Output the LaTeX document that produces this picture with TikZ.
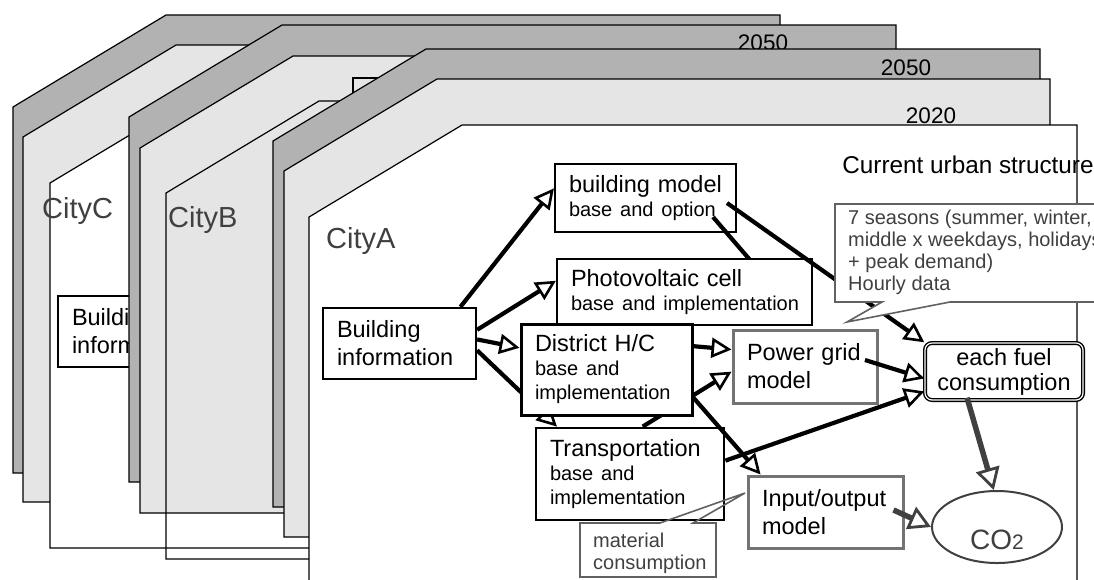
\documentclass[tikz,border=0pt]{standalone}
\usepackage{fontspec}
\setmainfont{Liberation Sans}
\usetikzlibrary{arrows.meta,calc,positioning,shapes.geometric}

\definecolor{darkpage}{gray}{0.70}
\definecolor{lightpage}{gray}{0.90}
\definecolor{boxgray}{gray}{0.45}
\definecolor{notegray}{gray}{0.38}
\definecolor{textgray}{gray}{0.25}

\newcommand\bxfont{\fontsize{23.5}{28}\selectfont}
\newcommand\mxfont{\fontsize{23.5}{24}\selectfont}
\newcommand\sbfont{\fontsize{20}{24}\selectfont}
\newcommand\ctfont{\fontsize{29}{34}\selectfont}
\newcommand\yrfont{\fontsize{22.5}{27}\selectfont}
\newcommand\ntfont{\fontsize{20}{21.8}\selectfont}

\begin{document}
\begin{tikzpicture}[x=1pt, y=-1pt,
page/.style={draw=black, line width=1.2pt},
box/.style={draw=black, fill=white, line width=2.2pt, align=left, inner xsep=14pt, font=\bxfont},
mixbox/.style={box, font=\mxfont},
graybox/.style={box, draw=boxgray, line width=3pt},
arr/.style={line width=4.2pt, -{Triangle[length=20pt, width=20pt, fill=white, line width=2.6pt]}},
grayarr/.style={draw=textgray, line width=5.5pt, -{Triangle[length=22pt, width=24pt, fill=white, line width=2.8pt]}},
note/.style={draw=notegray, line width=1.6pt},
notetext/.style={inner sep=0pt, align=left, font=\ntfont, text=textgray},
city/.style={anchor=base west, inner sep=0pt, font=\ctfont, text=textgray},
year/.style={anchor=base, inner sep=0pt, font=\yrfont}]

\useasboundingbox (0,0) rectangle (1094,579);
\clip (0,0) rectangle (1094,579);

%CityC
\draw[page, fill=darkpage] (13,473) -- (13,107) -- (166,15) -- (780,15) -- (780,473) -- cycle;
\draw[page, fill=lightpage] (23,502) -- (23,137) -- (176,45) -- (790,45) -- (790,502) -- cycle;
\draw[page, fill=white] (50,548) -- (50,183) -- (203,91) -- (815,91) -- (815,548) -- cycle;
\node[city] (cityc) at (42,218) {CityC};
\node[box, text width=125pt, minimum height=71pt] (bic) at (134.5,331.5) {Building\\information};

%CityB
\draw[page, fill=darkpage] (129,482) -- (129,117) -- (282,25) -- (896,25) -- (896,482) -- cycle;
\node[year] (yearb) at (763,50) {2050};
\draw[page, fill=lightpage] (140,513) -- (140,148) -- (293,56) -- (906,56) -- (906,513) -- cycle;
\draw[page] (353,78) rectangle (420,130);
\draw[page] (166,559) -- (166,193) -- (319,101) -- (930,101) -- (930,559) -- cycle;
\node[city] (cityb) at (168,227) {CityB};

%CityA
\draw[page, fill=darkpage] (273,507) -- (273,141) -- (426,49) -- (1040,49) -- (1040,507) -- cycle;
\node[year] (yeara) at (906,75) {2050};
\draw[page, fill=lightpage] (284,537) -- (284,171) -- (437,79) -- (1050,79) -- (1050,537) -- cycle;
\node[year] (yearnow) at (931,123) {2020};
\draw[page, fill=white] (309,640) -- (309,217) -- (462,125) -- (1077,125) -- (1077,640) -- cycle;
\node[year, font=\fontsize{24.3}{28}\selectfont] (current) at (968,173) {Current urban structure};
\node[city] (citya) at (326,248) {CityA};

% models
\node[mixbox, text width=153pt, minimum height=68pt] (bm) at (645.5,198) {building model\\\sbfont base and option};
\node[box, text width=125pt, minimum height=71pt] (bi) at (399.5,343.5) {Building\\information};
\node[mixbox, line width=2.8pt, text width=160pt, minimum height=92pt] (tr) at (630,474) {Transportation\\\sbfont base and\\implementation};
\node[graybox, text width=116pt, minimum height=73pt] (pg) at (805,366.5) {Power grid\\model};
\node[graybox, text width=127pt, minimum height=72pt] (io) at (825.5,512) {Input/output\\model};
\node[box, align=center, inner xsep=4pt, minimum width=158pt, minimum height=57pt, rounded corners=7pt,
  line width=1.4pt, double=white, double distance=1.2pt, font=\fontsize{23.5}{25}\selectfont] (fc) at (1004,371.5) {each fuel\\consumption};
\node[ellipse, draw=textgray, fill=white, line width=2pt, minimum width=130pt, minimum height=72pt, inner sep=0pt,
  text=textgray, font=\fontsize{28}{30}\selectfont] (co2) at (997,527) {\raisebox{-22pt}[0pt][0pt]{CO{\fontsize{21}{21}\selectfont 2}}};

% links hidden behind boxes
\coordinate (pvend) at (800,318);
\draw[line width=4.2pt] ($(bm.center)+(67.5,19)$) -- (pvend);
\draw[arr] (bi.-5) -- (tr.147);
\draw[arr] (tr.75) -- (pg.184);

\node[mixbox, text width=227pt, minimum height=66pt] (pv) at (684.5,292) {Photovoltaic cell\\\sbfont\mbox{base and implementation}};
\node[mixbox, line width=3pt, text width=143pt, minimum height=91pt] (dhc) at (606.5,369.5) {District H/C\\\sbfont base and\\implementation};

% links
\draw[arr] (bi.31.7) -- (bm.174);
\draw[arr] (bi.10) -- (pv.175.5);
\draw[arr] (bi.3) -- (dhc.166);
\draw[arr] (dhc.15) -- (pg.167);
\draw[arr] (dhc.-18) -- (io.150);
\draw[arr] (tr.8) -- (fc.194);
\draw[arr] ($(pg.center)+(60,-6.5)$) -- (fc.185);
\draw[arr] ($(bm.center)+(81.5,5)$) -- (fc.north west);
\draw[grayarr] ($(fc.south)+(-37,-3)$) -- (co2.95);
\draw[grayarr] ($(io.east)+(-11,-2)$) -- (co2.west);

% notes
\draw[note, fill=white] (835,302) -- (835,204) -- (1130,204) -- (1130,302) -- (950,302) -- (847,322) -- (882,302) -- cycle;
\node[notetext, anchor=north west] (seasons) at (848,210) {7 seasons (summer, winter,\\middle x weekdays, holidays\\+ peak demand)\\Hourly data};
\draw[note] (580,577) -- (580,523) -- (660,523) -- (745,493) -- (693,523) -- (716,523) -- (716,577) -- cycle;
\node[notetext, anchor=north west] (material) at (593,533) {material\\consumption};
\end{tikzpicture}
\end{document}
